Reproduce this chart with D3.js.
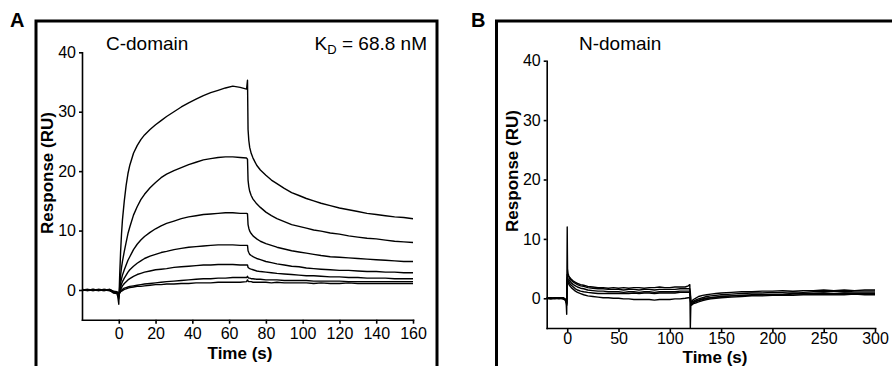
<!DOCTYPE html>
<html>
<head>
<meta charset="utf-8">
<script src="https://cdn.jsdelivr.net/npm/d3@7"></script>
<style>
  body { margin: 0; background: #fff; }
  svg { display: block; font-family: "Liberation Sans", Arial, sans-serif; }
  .axis path, .axis line { stroke: #000; stroke-width: 1.6; }
  .axis text { font-size: 16px; fill: #000; }
  .trace { fill: none; stroke: #000; stroke-width: 1.4; stroke-linejoin: round; }
</style>
</head>
<body>
<div id="chart"></div>
<script>
// Panel A: C-domain, time points (s) shared by all traces
var timeA = [-20,-17,-14,-11,-8,-5,-3,-1,-0.5,0,0.5,1,1.5,2,3,4,5,6,8,10,12,14,17,20,23,26,30,34,
             38,42,46,50,54,58,62,66,69.5,70,70.3,70.7,71.2,72,73,75,77,80,83,86,90,94,98,102,106,
             110,115,120,125,130,135,140,145,150,155,160];
var cTrace1 = [0.1,-0.1,0.1,-0.1,0.1,0,-0.5,-0.6,-1.2,-2.4,2.5,6.5,9.5,11.8,15.0,17.6,19.6,21.0,23.0,24.3,25.3,26.1,27.0,27.8,28.5,29.2,30.0,30.8,
               31.5,32.1,32.7,33.2,33.6,34.0,34.3,34.1,33.8,35.3,27.0,25.2,24.0,23.0,22.2,21.0,20.2,19.3,18.5,17.9,17.1,16.4,15.9,15.4,15.0,
               14.6,14.2,13.8,13.5,13.2,12.9,12.7,12.5,12.3,12.2,12.0];
var cTrace2 = [0,0.1,-0.1,0.1,0,-0.1,-0.4,-0.5,-0.8,-1.5,0.5,2.5,3.8,4.8,6.5,8.0,9.5,10.6,12.6,14.0,15.2,16.1,17.2,18.1,18.9,19.5,20.1,20.6,
               21.1,21.5,21.9,22.1,22.3,22.4,22.4,22.3,22.2,22.0,18.5,17.4,16.6,15.9,15.3,14.5,13.9,13.1,12.5,12.0,11.5,11.0,10.7,10.4,10.1,
               9.9,9.6,9.4,9.1,8.9,8.7,8.6,8.4,8.2,8.1,8.0];
var cTrace3 = [-0.1,0,0.1,0,-0.1,0.1,-0.3,-0.5,-0.7,-1.2,0,1.2,1.9,2.5,3.4,4.2,5.0,5.6,6.8,7.7,8.4,9.0,9.7,10.3,10.8,11.2,11.6,12.0,
               12.3,12.5,12.7,12.8,12.9,13.0,13.0,12.9,12.9,12.8,11.0,10.4,9.9,9.5,9.1,8.6,8.2,7.8,7.5,7.2,6.9,6.6,6.4,6.2,6.0,
               5.8,5.6,5.5,5.4,5.3,5.2,5.1,5.0,4.9,4.8,4.8];
var cTrace4 = [0,-0.1,0,0.1,0,-0.1,-0.3,-0.4,-0.6,-1.0,-0.2,0.5,1.0,1.4,2.0,2.5,3.0,3.4,4.0,4.5,4.9,5.3,5.7,6.0,6.3,6.5,6.8,7.0,
               7.2,7.3,7.4,7.5,7.6,7.6,7.6,7.5,7.5,7.5,6.6,6.3,6.0,5.8,5.6,5.3,5.1,4.8,4.6,4.4,4.2,4.0,3.9,3.7,3.6,
               3.5,3.4,3.3,3.3,3.2,3.1,3.1,3.0,3.0,2.9,2.9];
var cTrace5 = [0.1,0,-0.1,0,0.1,0,-0.3,-0.4,-0.6,-0.9,-0.4,0.1,0.4,0.7,1.1,1.4,1.7,1.9,2.3,2.6,2.8,3.0,3.2,3.4,3.5,3.6,3.8,3.9,
               4.0,4.1,4.2,4.2,4.3,4.3,4.3,4.2,4.2,4.2,3.8,3.7,3.6,3.5,3.4,3.2,3.1,3.0,2.9,2.8,2.7,2.6,2.5,2.4,2.4,
               2.3,2.2,2.2,2.1,2.1,2.0,2.0,2.0,1.9,1.9,1.9];
var cTrace6 = [0,0.1,0,-0.1,0,0.1,-0.2,-0.4,-0.5,-0.8,-0.5,-0.2,0,0.1,0.3,0.4,0.5,0.6,0.7,0.8,0.9,1.0,1.1,1.2,1.3,1.4,1.5,1.6,
               1.7,1.8,1.9,1.9,2.0,2.0,2.1,2.1,2.1,2.3,2.1,2.0,2.0,1.9,1.9,1.8,1.8,1.7,1.7,1.7,1.6,1.6,1.6,1.6,1.5,
               1.5,1.5,1.5,1.4,1.4,1.4,1.4,1.4,1.4,1.4,1.4];
var cTrace7 = [0,0,0.1,0,-0.1,0,-0.2,-0.3,-0.4,-0.7,-0.5,-0.3,-0.2,-0.1,0.1,0.2,0.3,0.4,0.5,0.6,0.6,0.7,0.8,0.9,0.9,1.0,1.0,1.1,
               1.1,1.2,1.2,1.2,1.3,1.3,1.3,1.3,1.4,1.7,1.5,1.4,1.4,1.4,1.3,1.3,1.3,1.3,1.2,1.3,1.2,1.2,1.2,1.2,1.1,
               1.2,1.1,1.1,1.2,1.1,1.1,1.1,1.1,1.1,1.1,1.1];

// Panel B: N-domain
var timeB = [-20,-16,-12,-8,-4,-2,-1,-0.5,0,0.3,0.8,1.5,2.5,4,6,8,10,13,16,20,25,30,35,40,45,50,55,60,65,70,
             75,80,85,90,95,100,105,110,115,118,119.5,120,120.5,121.5,123,125,128,132,136,140,145,150,160,170,
             180,190,200,210,220,230,240,250,260,270,280,290,300];
var nTrace1 = [0.1,-0.1,0.1,0,-0.1,-0.3,-0.8,-2.7,12.0,5.0,4.2,3.8,3.5,3.2,2.9,2.7,2.5,2.3,2.2,2.0,1.9,1.8,1.8,1.7,1.8,1.7,1.8,1.7,1.8,1.8,
               1.7,1.8,1.8,1.9,1.8,1.8,1.9,1.9,1.9,2.1,2.3,-5.0,-1.0,-0.5,-0.2,0,0.3,0.5,0.6,0.7,0.8,0.9,1.0,1.1,
               1.1,1.2,1.2,1.3,1.2,1.3,1.3,1.4,1.3,1.4,1.3,1.4,1.4];
var nTrace2 = [0,0.1,0,0.1,0,-0.2,-0.5,-1.2,4.0,3.8,3.7,3.6,3.3,3.0,2.7,2.5,2.3,2.1,2.0,1.8,1.7,1.6,1.6,1.5,1.5,1.5,1.4,1.5,1.5,1.4,
               1.5,1.5,1.4,1.5,1.5,1.5,1.5,1.6,1.6,1.6,1.6,1.0,-0.4,-0.6,-0.5,-0.3,-0.1,0.1,0.3,0.4,0.5,0.6,0.7,0.8,
               0.9,0.9,1.0,1.0,1.1,1.0,1.1,1.1,1.2,1.1,1.2,1.2,1.2];
var nTrace3 = [-0.1,0,0.1,-0.1,0.1,-0.2,-0.4,-1.0,3.5,3.4,3.3,3.2,2.9,2.6,2.3,2.1,1.9,1.7,1.6,1.4,1.3,1.2,1.2,1.1,1.1,1.1,1.0,1.1,1.1,1.0,
               1.1,1.1,1.0,1.1,1.1,1.1,1.1,1.2,1.2,1.2,1.2,0.6,-1.1,-1.0,-0.8,-0.6,-0.4,-0.2,0,0.1,0.2,0.3,0.4,0.5,
               0.6,0.6,0.7,0.7,0.8,0.8,0.8,0.9,0.8,0.9,0.9,0.9,0.9];
var nTrace4 = [0,-0.1,0,0.1,-0.1,-0.2,-0.4,-0.9,3.2,3.1,3.0,2.8,2.5,2.2,1.9,1.6,1.4,1.2,1.1,1.0,0.9,0.8,0.8,0.8,0.8,0.8,0.8,0.8,0.9,0.8,
               0.9,0.9,0.8,0.9,0.9,0.9,0.9,1.0,1.0,1.0,1.0,0.4,-1.2,-1.1,-0.9,-0.8,-0.6,-0.4,-0.2,-0.1,0,0.1,0.2,0.3,
               0.4,0.4,0.5,0.5,0.5,0.6,0.6,0.6,0.6,0.6,0.7,0.6,0.6];
var nTrace5 = [0.1,0,-0.1,0,0.1,-0.1,-0.3,-0.8,3.0,2.9,2.7,2.4,2.1,1.8,1.5,1.2,1.0,0.8,0.6,0.4,0.3,0.2,0.1,0.1,0.0,0.0,-0.1,-0.1,-0.2,-0.2,
               -0.2,-0.2,-0.3,-0.2,-0.2,-0.2,-0.1,-0.1,0.0,0.1,0.1,-0.3,-0.9,-0.8,-0.7,-0.5,-0.3,-0.1,0,0.1,0.2,0.3,0.4,0.5,
               0.5,0.6,0.6,0.6,0.7,0.7,0.7,0.8,0.7,0.8,0.8,0.8,0.8];

var ticksY = [0, 10, 20, 30, 40],
    ticksXA = [0, 20, 40, 60, 80, 100, 120, 140, 160],
    ticksXB = [0, 50, 100, 150, 200, 250, 300];

var width = 892,
    height = 366;

var svg = d3.select("#chart").append("svg")
    .attr("width", width)
    .attr("height", height);

// panel frames (run off the page, as in the figure)
svg.append("rect")
    .attr("x", 36).attr("y", 21)
    .attr("width", 401).attr("height", 400)
    .attr("fill", "none").attr("stroke", "#000").attr("stroke-width", 3);
svg.append("rect")
    .attr("x", 496.5).attr("y", 21)
    .attr("width", 500).attr("height", 400)
    .attr("fill", "none").attr("stroke", "#000").attr("stroke-width", 3);

svg.append("text").attr("x", 10).attr("y", 27)
    .style("font-size", "20px").style("font-weight", "bold").text("A");
svg.append("text").attr("x", 471).attr("y", 27)
    .style("font-size", "20px").style("font-weight", "bold").text("B");

drawPanel({
  left: 82, right: 413, top: 52.3, bottom: 319.7,
  xDomain: [-20, 160], xTicks: ticksXA, xPad: 4,
  times: timeA,
  traces: [cTrace1, cTrace2, cTrace3, cTrace4, cTrace5, cTrace6, cTrace7],
  xTitle: {x: 240, y: 359},
  yTitle: {x: 52.5, y: 173}
});

drawPanel({
  left: 546.7, right: 875, top: 60.7, bottom: 328,
  xDomain: [-20, 300], xTicks: ticksXB, xPad: 1,
  times: timeB,
  traces: [nTrace1, nTrace2, nTrace3, nTrace4, nTrace5],
  xTitle: {x: 715, y: 363},
  yTitle: {x: 517.5, y: 171}
});

// panel labels
svg.append("text").attr("x", 106).attr("y", 50)
    .style("font-size", "19px").text("C-domain");
var kd = svg.append("text").attr("x", 427).attr("y", 50)
    .attr("text-anchor", "end").style("font-size", "19px");
kd.append("tspan").text("K");
kd.append("tspan").attr("dy", 4).style("font-size", "13px").text("D");
kd.append("tspan").attr("dy", -4).text(" = 68.8 nM");

svg.append("text").attr("x", 579).attr("y", 50)
    .style("font-size", "19px").text("N-domain");


function drawPanel(p) {
  var xScale = d3.scaleLinear().domain(p.xDomain).range([p.left, p.right]),
      yScale = d3.scaleLinear().domain([-5, 40]).range([p.bottom, p.top]);

  var xAxis = d3.axisBottom(xScale)
        .tickValues(p.xTicks)
        .tickSize(4).tickSizeOuter(0).tickPadding(p.xPad),
      yAxis = d3.axisLeft(yScale)
        .tickValues(ticksY)
        .tickSize(3).tickSizeOuter(0).tickPadding(3);

  svg.append("g")
      .attr("class", "axis")
      .attr("transform", "translate(0," + p.bottom + ")")
      .call(xAxis)
      .selectAll("text").style("font-size", "16px");

  svg.append("g")
      .attr("class", "axis")
      .attr("transform", "translate(" + p.left + ",0)")
      .call(yAxis);

  svg.selectAll(".axis .domain").attr("stroke-linecap", "square");

  var line = d3.line()
      .x(function(d, i) { return xScale(p.times[i]); })
      .y(function(d) { return yScale(d); });

  svg.append("g")
    .selectAll("path")
      .data(p.traces).enter()
      .append("path")
        .attr("class", "trace")
        .attr("d", line);

  svg.append("text")
      .attr("x", p.xTitle.x).attr("y", p.xTitle.y)
      .attr("text-anchor", "middle")
      .style("font-size", "17px").style("font-weight", "bold")
      .text("Time (s)");

  svg.append("text")
      .attr("transform", "translate(" + p.yTitle.x + "," + p.yTitle.y + ") rotate(-90)")
      .attr("text-anchor", "middle")
      .style("font-size", "17px").style("font-weight", "bold")
      .text("Response (RU)");
}
</script>
</body>
</html>
